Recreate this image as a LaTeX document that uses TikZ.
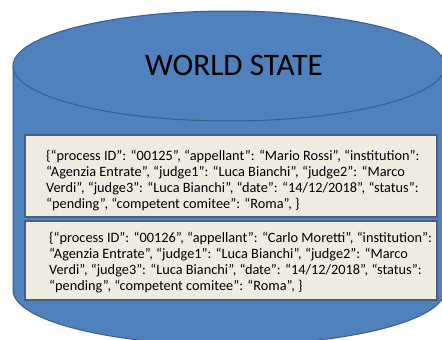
\documentclass[tikz,border=0pt]{standalone}
\usepackage{fontspec}
\setmainfont{Carlito}
\usepackage{tikz}
\definecolor{dbBlue}{HTML}{4F81BD}
\definecolor{dbEdge}{HTML}{385D8A}
\definecolor{recFill}{HTML}{EEECE1}
\definecolor{recEdge}{HTML}{4A5F80}
\newcommand{\dbLeft}{13}
\newcommand{\dbRight}{445}
\newcommand{\dbTop}{-66}
\newcommand{\dbBottom}{-290}

\begin{document}
\begin{tikzpicture}[x=1pt, y=1pt,
  recbox/.style={draw=recEdge, line width=1.4pt, fill=recFill, minimum width=412pt, inner sep=0pt},
  rectext/.style={anchor=base west, align=left, inner sep=0pt, font=\fontsize{14.3}{16}\selectfont}]
         \clip (0,0) rectangle (442,-340);
         \fill[white] (0,0) rectangle (442,-340);

         % cylinder body
         \draw[fill=dbBlue, draw=dbEdge, line width=1pt] (\dbLeft,\dbTop) -- (\dbLeft,\dbBottom)
         arc[start angle=180, end angle=360, x radius=216, y radius=55] -- (\dbRight,\dbTop);
         \draw[fill=dbBlue, draw=dbEdge, line width=1pt] (229,\dbTop) ellipse [x radius=216, y radius=55];
         \node[font=\fontsize{31.3}{33}\selectfont, anchor=base] (title) at (234,-75) {WORLD STATE};

         % records
         \node[recbox, minimum height=82pt] (rec1) at (231,-176) {};
         \node[recbox, minimum height=79pt] (rec2) at (231,-260.5) {};

         % anchor base = last line
         \node[rectext] (txt1) at (46,-208.7) {{\{}“process ID": “00125", “appellant": “Mario Rossi", “institution":\\
         “Agenzia Entrate", “judge1": “Luca Bianchi", “judge2": “Marco\\
         Verdi", “judge3": “Luca Bianchi", “date": “14/12/2018", “status":\\
         “pending", “competent comitee": “Roma", \}};
         \node[rectext] (txt2) at (49,-290.7) {{\{}“process ID": “00126", “appellant": “Carlo Moretti", “institution":\\
         “Agenzia Entrate", “judge1": “Luca Bianchi", “judge2": “Marco\\
         Verdi", “judge3": “Luca Bianchi", “date": “14/12/2018", “status":\\
         “pending", “competent comitee": “Roma", \}};
      \end{tikzpicture}
\end{document}
